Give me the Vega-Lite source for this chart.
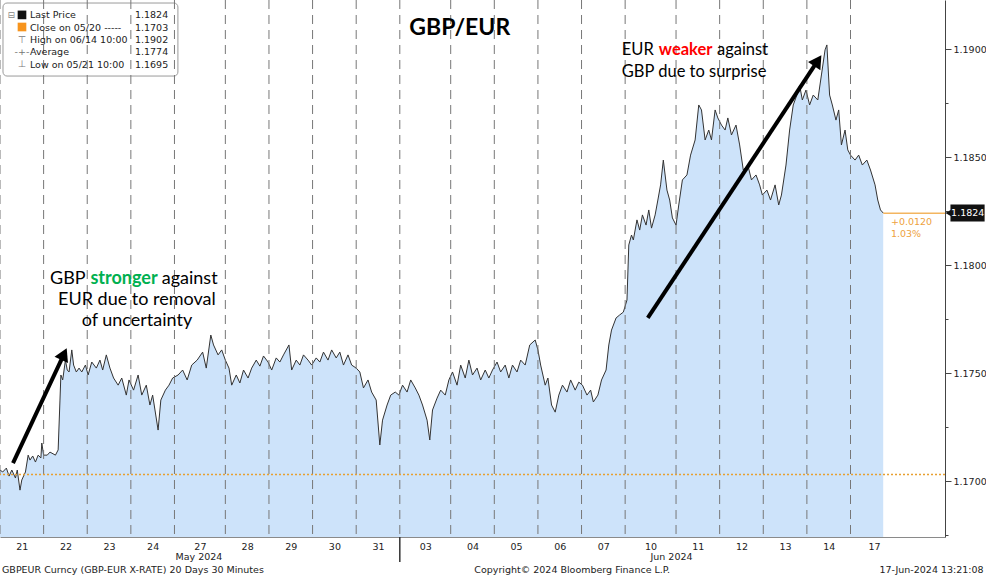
{
  "$schema": "https://vega.github.io/schema/vega-lite/v6.json",
  "width": 945,
  "height": 537,
  "autosize": {"type": "none"},
  "padding": {"left": 0, "top": 0, "right": 41, "bottom": 40},
  "background": "white",
  "config": {"view": {"stroke": null}},
  "datasets": {
    "series": [
      {"b":0,"p":1.17051},{"b":3,"p":1.17042},{"b":7,"p":1.17060},{"b":10,"p":1.17023},{"b":13,"p":1.17051},{"b":17,"p":1.17014},{"b":19,"p":1.17051},{"b":22,"p":1.16958},{"b":24,"p":1.17005},{"b":28,"p":1.17042},{"b":31,"p":1.17120},{"b":33,"p":1.17097},{"b":36,"p":1.17116},{"b":39,"p":1.17088},{"b":42,"p":1.17120},{"b":45,"p":1.17107},{"b":46,"p":1.17176},{"b":48,"p":1.17120},
      {"b":52,"p":1.17120},{"b":55,"p":1.17134},{"b":61,"p":1.17120},{"b":64,"p":1.17144},{"b":66,"p":1.17375},{"b":67,"p":1.17491},{"b":69,"p":1.17468},{"b":72,"p":1.17560},{"b":74,"p":1.17514},{"b":76,"p":1.17505},{"b":79,"p":1.17607},{"b":81,"p":1.17537},{"b":84,"p":1.17505},{"b":87,"p":1.17523},{"b":90,"p":1.17505},{"b":94,"p":1.17537},{"b":97,"p":1.17491},
      {"b":101,"p":1.17551},{"b":106,"p":1.17523},{"b":110,"p":1.17560},{"b":113,"p":1.17514},{"b":117,"p":1.17584},{"b":121,"p":1.17523},{"b":125,"p":1.17477},{"b":130,"p":1.17444},{"b":134,"p":1.17477},{"b":139,"p":1.17398},{"b":142,"p":1.17468},
      {"b":147,"p":1.17421},{"b":152,"p":1.17491},{"b":156,"p":1.17398},{"b":161,"p":1.17444},{"b":165,"p":1.17352},{"b":168,"p":1.17398},{"b":174,"p":1.17236},{"b":177,"p":1.17375},{"b":182,"p":1.17421},{"b":186,"p":1.17444},{"b":190,"p":1.17477},
      {"b":196,"p":1.17491},{"b":201,"p":1.17514},{"b":206,"p":1.17468},{"b":211,"p":1.17537},{"b":217,"p":1.17560},{"b":223,"p":1.17597},{"b":227,"p":1.17523},{"b":232,"p":1.17676},{"b":235,"p":1.17630},{"b":240,"p":1.17584},{"b":244,"p":1.17607},{"b":248,"p":1.17560},
      {"b":252,"p":1.17523},{"b":255,"p":1.17444},{"b":260,"p":1.17491},{"b":264,"p":1.17454},{"b":268,"p":1.17514},{"b":273,"p":1.17477},{"b":277,"p":1.17523},{"b":282,"p":1.17560},{"b":286,"p":1.17532},{"b":290,"p":1.17579},{"b":295,"p":1.17551},
      {"b":299,"p":1.17514},{"b":304,"p":1.17570},{"b":308,"p":1.17551},{"b":312,"p":1.17584},{"b":318,"p":1.17630},{"b":321,"p":1.17514},{"b":326,"p":1.17560},{"b":330,"p":1.17537},{"b":334,"p":1.17584},{"b":339,"p":1.17560},{"b":343,"p":1.17537},
      {"b":348,"p":1.17570},{"b":352,"p":1.17551},{"b":356,"p":1.17597},{"b":361,"p":1.17560},{"b":365,"p":1.17607},{"b":370,"p":1.17570},{"b":374,"p":1.17597},{"b":378,"p":1.17537},{"b":383,"p":1.17584},{"b":387,"p":1.17537},{"b":392,"p":1.17523},
      {"b":396,"p":1.17505},{"b":400,"p":1.17431},{"b":405,"p":1.17468},{"b":409,"p":1.17412},{"b":414,"p":1.17375},{"b":418,"p":1.17167},{"b":421,"p":1.17282},{"b":426,"p":1.17352},{"b":430,"p":1.17398},{"b":435,"p":1.17412},{"b":439,"p":1.17398},
      {"b":443,"p":1.17444},{"b":448,"p":1.17412},{"b":452,"p":1.17468},{"b":457,"p":1.17431},{"b":461,"p":1.17398},{"b":465,"p":1.17352},{"b":470,"p":1.17282},{"b":473,"p":1.17190},{"b":476,"p":1.17329},{"b":481,"p":1.17384},{"b":485,"p":1.17421},{"b":490,"p":1.17398},{"b":494,"p":1.17468},
      {"b":498,"p":1.17505},{"b":503,"p":1.17444},{"b":507,"p":1.17537},{"b":512,"p":1.17477},{"b":516,"p":1.17560},{"b":520,"p":1.17491},{"b":525,"p":1.17523},{"b":529,"p":1.17468},{"b":534,"p":1.17514},{"b":538,"p":1.17477},{"b":542,"p":1.17514},
      {"b":547,"p":1.17551},{"b":551,"p":1.17505},{"b":556,"p":1.17537},{"b":560,"p":1.17477},{"b":564,"p":1.17537},{"b":569,"p":1.17505},{"b":573,"p":1.17560},{"b":578,"p":1.17537},{"b":583,"p":1.17630},{"b":589,"p":1.17653},{"b":592,"p":1.17607},
      {"b":595,"p":1.17537},{"b":600,"p":1.17444},{"b":603,"p":1.17477},{"b":607,"p":1.17352},{"b":611,"p":1.17319},{"b":615,"p":1.17398},{"b":619,"p":1.17444},{"b":624,"p":1.17412},{"b":628,"p":1.17468},{"b":633,"p":1.17421},{"b":637,"p":1.17458},
      {"b":641,"p":1.17444},{"b":646,"p":1.17398},{"b":650,"p":1.17421},{"b":653,"p":1.17366},{"b":658,"p":1.17398},{"b":662,"p":1.17468},{"b":667,"p":1.17514},{"b":670,"p":1.17630},{"b":673,"p":1.17699},{"b":678,"p":1.17755},{"b":682,"p":1.17769},{"b":686,"p":1.17782},
      {"b":690,"p":1.17838},{"b":692,"p":1.18093},{"b":695,"p":1.18139},{"b":697,"p":1.18116},{"b":701,"p":1.18209},{"b":704,"p":1.18162},{"b":707,"p":1.18232},{"b":711,"p":1.18185},{"b":714,"p":1.18255},{"b":717,"p":1.18171},{"b":721,"p":1.18232},{"b":724,"p":1.18301},{"b":727,"p":1.18371},{"b":730,"p":1.18486},{"b":734,"p":1.18347},{"b":737,"p":1.18301},{"b":740,"p":1.18218},{"b":744,"p":1.18185},
      {"b":747,"p":1.18278},{"b":751,"p":1.18394},{"b":756,"p":1.18417},{"b":760,"p":1.18509},{"b":765,"p":1.18579},{"b":769,"p":1.18741},{"b":772,"p":1.18718},{"b":776,"p":1.18579},{"b":780,"p":1.18625},{"b":783,"p":1.18579},{"b":787,"p":1.18718},{"b":790,"p":1.18681},
      {"b":794,"p":1.18648},{"b":798,"p":1.18625},{"b":801,"p":1.18681},{"b":805,"p":1.18602},{"b":810,"p":1.18648},{"b":814,"p":1.18556},{"b":818,"p":1.18440},{"b":823,"p":1.18463},{"b":827,"p":1.18394},{"b":832,"p":1.18417},{"b":836,"p":1.18371},{"b":839,"p":1.18324},
      {"b":844,"p":1.18347},{"b":848,"p":1.18301},{"b":853,"p":1.18371},{"b":857,"p":1.18278},{"b":860,"p":1.18324},{"b":865,"p":1.18463},{"b":869,"p":1.18625},{"b":873,"p":1.18741},{"b":877,"p":1.18787},{"b":880,"p":1.18833},{"b":883,"p":1.18764},{"b":887,"p":1.18810},
      {"b":891,"p":1.18741},{"b":895,"p":1.18787},{"b":900,"p":1.18764},{"b":904,"p":1.18880},{"b":908,"p":1.18996},{"b":910,"p":1.19019},{"b":913,"p":1.18787},{"b":916,"p":1.18741},{"b":920,"p":1.18671},{"b":923,"p":1.18718},{"b":926,"p":1.18556},{"b":930,"p":1.18625},{"b":933,"p":1.18533},{"b":936,"p":1.18509},
      {"b":941,"p":1.18486},{"b":945,"p":1.18509},{"b":949,"p":1.18463},{"b":954,"p":1.18486},{"b":958,"p":1.18440},{"b":963,"p":1.18371},{"b":966,"p":1.18301},{"b":969,"p":1.18255},{"b":972,"p":1.18241}
    ],
    "bounds": [
      {"b":0},{"b":48},{"b":96},{"b":144},{"b":192},{"b":248},{"b":296},{"b":344},{"b":392},{"b":440},{"b":496},{"b":544},{"b":592},{"b":640},{"b":688},{"b":744},{"b":792},{"b":840},{"b":888},{"b":936}
    ],
    "one": [{}]
  },
  "layer": [
    {
      "data": {"name": "series"},
      "mark": {"type": "area", "color": "#cde3fa", "opacity": 1},
      "encoding": {
        "x": {"field": "b", "type": "quantitative",
          "scale": {"domain": [0, 1040], "nice": false, "zero": false},
          "axis": {"title": null, "values": [24,72,120,168,220,272,320,368,416,468,520,568,616,664,716,768,816,864,912,962],
            "labelExpr": "['21','22','23','24','27','28','29','30','31','03','04','05','06','07','10','11','12','13','14','17'][indexof([24,72,120,168,220,272,320,368,416,468,520,568,616,664,716,768,816,864,912,962], datum.value)]",
            "ticks": false, "grid": false, "domainColor": "#8a8a8a", "labelFont": "DejaVu Sans", "labelFontSize": 9.5, "labelColor": "#222", "labelPadding": 4, "labelFlush": false, "labelOverlap": false}},
        "y": {"field": "p", "type": "quantitative",
          "scale": {"domain": [1.16741, 1.19227], "nice": false, "zero": false},
          "axis": {"title": null, "orient": "right", "values": [1.1675,1.17,1.1725,1.175,1.1775,1.18,1.1825,1.185,1.1875,1.19],
            "labelExpr": "abs(datum.value*200 - round(datum.value*200)) < 0.01 ? format(datum.value, '.4f') : ''",
            "tickSize": {"condition": {"test": "abs(datum.value*200 - round(datum.value*200)) < 0.01", "value": 6}, "value": 3},
            "grid": false, "domainColor": "#444", "tickColor": "#444", "labelFont": "DejaVu Sans", "labelFontSize": 9.5, "labelColor": "#222", "labelPadding": 2}},
        "y2": {"datum": 1.16741}
      }
    },
    {
      "data": {"name": "series"},
      "mark": {"type": "line", "color": "#333", "strokeWidth": 1},
      "encoding": {"x": {"field": "b", "type": "quantitative"}, "y": {"field": "p", "type": "quantitative"}}
    },
    {
      "data": {"name": "one"},
      "mark": {"type": "rect", "fill": "white", "stroke": "#9a9a9a", "strokeWidth": 1, "cornerRadius": 4},
      "encoding": {"x": {"datum": 3.3}, "x2": {"datum": 195.8}, "y": {"datum": 1.19213}, "y2": {"datum": 1.18875}}
    },
    {
      "data": {"name": "bounds"},
      "mark": {"type": "rule", "color": "#777", "strokeWidth": 1, "strokeDash": [9, 6]},
      "encoding": {"x": {"field": "b", "type": "quantitative"}}
    },
    {
      "data": {"name": "one"},
      "mark": {"type": "rule", "color": "#e8a030", "strokeWidth": 1.5, "strokeDash": [2, 2]},
      "encoding": {"y": {"datum": 1.1703}}
    },
    {
      "data": {"name": "one"},
      "mark": {"type": "rule", "color": "#f3b560", "strokeWidth": 1.5},
      "encoding": {"x": {"datum": 972}, "x2": {"datum": 1040}, "y": {"datum": 1.1824}}
    },
    {
      "data": {"name": "one"},
      "mark": {"type": "rule", "color": "#333", "strokeWidth": 1.5, "clip": false},
      "encoding": {"x": {"datum": 440}, "y": {"datum": 1.16741}, "y2": {"datum": 1.16625}}
    },
    {
      "data": {"name": "one"},
      "mark": {"type": "rule", "color": "black", "strokeWidth": 4},
      "encoding": {"x": {"datum": 14.3}, "y": {"datum": 1.17083}, "x2": {"datum": 70.4}, "y2": {"datum": 1.17588}}
    },
    {
      "data": {"name": "one"},
      "mark": {"type": "point", "shape": "triangle-up", "filled": true, "color": "black", "opacity": 1, "size": 220, "angle": 25},
      "encoding": {"x": {"datum": 70.4}, "y": {"datum": 1.17588}}
    },
    {
      "data": {"name": "one"},
      "mark": {"type": "rule", "color": "black", "strokeWidth": 4},
      "encoding": {"x": {"datum": 712.9}, "y": {"datum": 1.17755}, "x2": {"datum": 900}, "y2": {"datum": 1.18946}}
    },
    {
      "data": {"name": "one"},
      "mark": {"type": "point", "shape": "triangle-up", "filled": true, "color": "black", "opacity": 1, "size": 220, "angle": 34},
      "encoding": {"x": {"datum": 900}, "y": {"datum": 1.18946}}
    },
    {
      "data": {"name": "one"},
      "mark": {"type": "text", "text": "GBP/EUR", "font": "Lato", "fontWeight": "bold", "fontSize": 23, "color": "black", "align": "center", "baseline": "middle"},
      "encoding": {"x": {"datum": 506}, "y": {"datum": 1.19097}}
    },
    {
      "data": {"name": "one"},
      "mark": {"type": "text", "text": "GBP", "font": "Lato", "fontSize": 18, "color": "black", "align": "left", "baseline": "middle"},
      "encoding": {"x": {"datum": 55}, "y": {"datum": 1.17935}}
    },
    {
      "data": {"name": "one"},
      "mark": {"type": "text", "text": "stronger", "font": "Lato", "fontSize": 18, "fontWeight": "bold", "color": "#00b050", "align": "left", "baseline": "middle"},
      "encoding": {"x": {"datum": 99.5}, "y": {"datum": 1.17935}}
    },
    {
      "data": {"name": "one"},
      "mark": {"type": "text", "text": "against", "font": "Lato", "fontSize": 18, "color": "black", "align": "left", "baseline": "middle"},
      "encoding": {"x": {"datum": 178}, "y": {"datum": 1.17935}}
    },
    {
      "data": {"name": "one"},
      "mark": {"type": "text", "text": ["EUR due to removal", "of uncertainty"], "lineHeight": 21, "font": "Lato", "fontSize": 18, "color": "black", "align": "center", "baseline": "middle"},
      "encoding": {"x": {"datum": 150.7}, "y": {"datum": 1.17838}}
    },
    {
      "data": {"name": "one"},
      "mark": {"type": "text", "text": "EUR", "font": "Lato", "fontSize": 16.5, "color": "black", "align": "left", "baseline": "middle"},
      "encoding": {"x": {"datum": 684.3}, "y": {"datum": 1.18996}}
    },
    {
      "data": {"name": "one"},
      "mark": {"type": "text", "text": "weaker", "font": "Lato", "fontSize": 16.5, "fontWeight": "bold", "color": "#ff0000", "align": "left", "baseline": "middle"},
      "encoding": {"x": {"datum": 725}, "y": {"datum": 1.18996}}
    },
    {
      "data": {"name": "one"},
      "mark": {"type": "text", "text": "against", "font": "Lato", "fontSize": 16.5, "color": "black", "align": "left", "baseline": "middle"},
      "encoding": {"x": {"datum": 789}, "y": {"datum": 1.18996}}
    },
    {
      "data": {"name": "one"},
      "mark": {"type": "text", "text": "GBP due to surprise", "font": "Lato", "fontSize": 16.5, "color": "black", "align": "left", "baseline": "middle"},
      "encoding": {"x": {"datum": 684.3}, "y": {"datum": 1.18894}}
    },
    {
      "data": {"name": "one"},
      "mark": {"type": "point", "shape": "square", "filled": true, "color": "#111", "opacity": 1, "size": 75},
      "encoding": {"x": {"datum": 24.2}, "y": {"datum": 1.19158}}
    },
    {
      "data": {"name": "one"},
      "mark": {"type": "point", "shape": "square", "filled": true, "color": "#f7941d", "opacity": 1, "size": 75},
      "encoding": {"x": {"datum": 24.2}, "y": {"datum": 1.19102}}
    },
    {
      "data": {"name": "one"},
      "mark": {"type": "text", "text": ["⊤", "-+-", "⊥"], "lineHeight": 12.3, "font": "DejaVu Sans", "fontSize": 9.5, "color": "#777", "align": "center", "baseline": "top"},
      "encoding": {"x": {"datum": 24.2}, "y": {"datum": 1.19066}}
    },
    {
      "data": {"name": "one"},
      "mark": {"type": "text", "text": "⊟", "font": "DejaVu Sans", "fontSize": 9, "color": "#888", "align": "center", "baseline": "middle"},
      "encoding": {"x": {"datum": 12.5}, "y": {"datum": 1.19158}}
    },
    {
      "data": {"name": "one"},
      "mark": {"type": "text", "text": ["Last Price", "Close on 05/20 -----", "High on 06/14 10:00", "Average", "Low on 05/21 10:00"], "lineHeight": 12.3, "font": "DejaVu Sans", "fontSize": 9.5, "color": "#222", "align": "left", "baseline": "top"},
      "encoding": {"x": {"datum": 33}, "y": {"datum": 1.19179}}
    },
    {
      "data": {"name": "one"},
      "mark": {"type": "text", "text": ["1.1824", "1.1703", "1.1902", "1.1774", "1.1695"], "lineHeight": 12.3, "font": "DejaVu Sans", "fontSize": 9.5, "color": "#222", "align": "left", "baseline": "top"},
      "encoding": {"x": {"datum": 148.5}, "y": {"datum": 1.19179}}
    },
    {
      "data": {"name": "one"},
      "mark": {"type": "rect", "fill": "#111", "clip": false},
      "encoding": {"x": {"datum": 1046}, "x2": {"datum": 1083.6}, "y": {"datum": 1.18280}, "y2": {"datum": 1.18202}}
    },
    {
      "data": {"name": "one"},
      "mark": {"type": "point", "shape": "triangle-left", "filled": true, "color": "#111", "opacity": 1, "size": 90, "clip": false},
      "encoding": {"x": {"datum": 1045}, "y": {"datum": 1.18241}}
    },
    {
      "data": {"name": "one"},
      "mark": {"type": "text", "text": "1.1824", "font": "DejaVu Sans", "fontSize": 9.5, "color": "white", "align": "center", "baseline": "middle"},
      "encoding": {"x": {"datum": 1065}, "y": {"datum": 1.18241}}
    },
    {
      "data": {"name": "one"},
      "mark": {"type": "text", "text": ["+0.0120", "1.03%"], "lineHeight": 12, "font": "DejaVu Sans", "fontSize": 9.5, "color": "#eea140", "align": "left", "baseline": "top"},
      "encoding": {"x": {"datum": 980.5}, "y": {"datum": 1.18222}}
    },
    {
      "data": {"name": "one"},
      "mark": {"type": "text", "text": "May 2024", "font": "DejaVu Sans", "fontSize": 9.5, "color": "#222", "align": "center", "baseline": "middle"},
      "encoding": {"x": {"datum": 219}, "y": {"datum": 1.16649}}
    },
    {
      "data": {"name": "one"},
      "mark": {"type": "text", "text": "Jun 2024", "font": "DejaVu Sans", "fontSize": 9.5, "color": "#222", "align": "center", "baseline": "middle"},
      "encoding": {"x": {"datum": 739}, "y": {"datum": 1.16649}}
    },
    {
      "data": {"name": "one"},
      "mark": {"type": "text", "text": "GBPEUR Curncy (GBP-EUR X-RATE) 20 Days 30 Minutes", "font": "DejaVu Sans", "fontSize": 9.5, "color": "#222", "align": "left", "baseline": "middle"},
      "encoding": {"x": {"datum": 2.2}, "y": {"datum": 1.16586}}
    },
    {
      "data": {"name": "one"},
      "mark": {"type": "text", "text": "Copyright© 2024 Bloomberg Finance L.P.", "font": "DejaVu Sans", "fontSize": 9.5, "color": "#222", "align": "left", "baseline": "middle"},
      "encoding": {"x": {"datum": 522}, "y": {"datum": 1.16586}}
    },
    {
      "data": {"name": "one"},
      "mark": {"type": "text", "text": "17-Jun-2024 13:21:08", "font": "DejaVu Sans", "fontSize": 9.5, "color": "#222", "align": "right", "baseline": "middle"},
      "encoding": {"x": {"datum": 1082.5}, "y": {"datum": 1.16586}}
    }
  ]
}
